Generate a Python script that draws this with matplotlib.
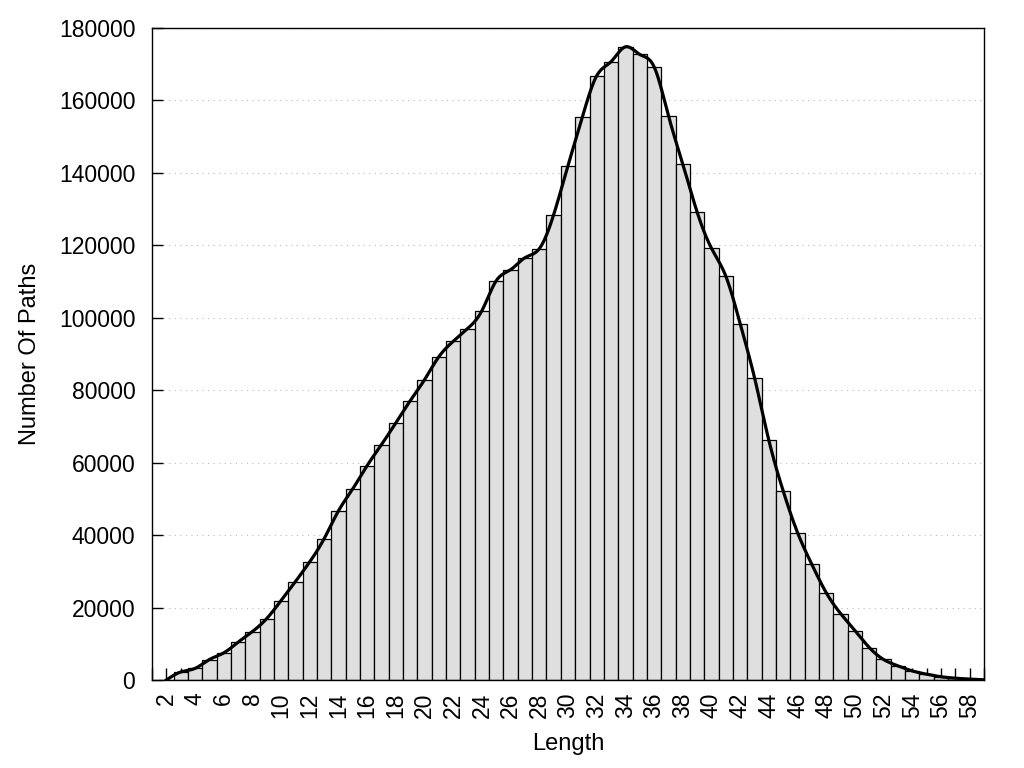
import numpy as np
import matplotlib
matplotlib.use("Agg")
import matplotlib.pyplot as plt
from matplotlib.ticker import MultipleLocator

lengths = list(range(2, 60))
counts = [0, 2200, 3200, 5650, 7480, 10430, 13380, 16970, 21940, 27180,
          32650, 39000, 46700, 52800, 59200, 65000, 71000, 77100, 82900, 89260,
          93500, 97000, 101960, 110240, 113270, 116580, 119070, 128450, 142000, 155400,
          166800, 170700, 174800, 172700, 169300, 155800, 142500, 129200, 119200, 111500,
          98400, 83500, 66200, 52200, 40700, 31900, 24100, 18350, 13660, 8970,
          5660, 3900, 2500, 1600, 900, 500, 250, 50]
x_tick_labels = [str(v) for v in range(2, 60, 2)]
y_ticks = list(range(0, 180001, 20000))


def natural_cubic_spline(x, y, xs):
    x = np.asarray(x, float)
    y = np.asarray(y, float)
    n = len(x)
    h = np.diff(x)
    A = np.zeros((n, n))
    b = np.zeros(n)
    A[0, 0] = 1
    A[-1, -1] = 1
    for i in range(1, n - 1):
        A[i, i - 1] = h[i - 1]
        A[i, i] = 2 * (h[i - 1] + h[i])
        A[i, i + 1] = h[i]
        b[i] = 3 * ((y[i + 1] - y[i]) / h[i] - (y[i] - y[i - 1]) / h[i - 1])
    c = np.linalg.solve(A, b)
    bb = np.zeros(n - 1)
    d = np.zeros(n - 1)
    for i in range(n - 1):
        bb[i] = (y[i + 1] - y[i]) / h[i] - h[i] * (2 * c[i] + c[i + 1]) / 3
        d[i] = (c[i + 1] - c[i]) / (3 * h[i])
    idx = np.clip(np.searchsorted(x, xs) - 1, 0, n - 2)
    dx = xs - x[idx]
    return y[idx] + bb[idx] * dx + c[idx] * dx ** 2 + d[idx] * dx ** 3


plt.rcParams['font.family'] = ['Liberation Sans', 'DejaVu Sans']

fig = plt.figure(figsize=(10.24, 7.68), dpi=100)
ax = fig.add_axes([152 / 1024, 88 / 768, (984 - 152) / 1024, (680 - 28) / 768])

ax.bar(lengths, counts, width=1.0, color='#dfdfdf', edgecolor='black',
       linewidth=0.9, zorder=2)

xs = np.linspace(lengths[0], lengths[-1], 1500)
ys = natural_cubic_spline(lengths, counts, xs)
ax.plot(xs, ys, color='black', linewidth=2.3, zorder=3)

ax.set_xlim(1, 59)
ax.set_ylim(0, 180000)
ax.set_xticks(list(range(2, 60, 2)))
ax.set_xticklabels(x_tick_labels, rotation=90)
ax.xaxis.set_minor_locator(MultipleLocator(1))
ax.set_yticks(y_ticks)
ax.set_yticklabels([str(v) for v in y_ticks])

ax.tick_params(axis='x', which='both', direction='in', length=9, width=1,
               labelsize=16.5, pad=9, top=False)
ax.tick_params(axis='y', which='both', direction='in', length=8, width=1,
               labelsize=16.5, pad=12, right=False)

ax.yaxis.grid(True, linestyle=(0, (1, 4)), color='#bbbbbb', linewidth=0.8, zorder=0)
ax.set_axisbelow(True)

for s in ax.spines.values():
    s.set_linewidth(1.0)
    s.set_zorder(4)

ax.set_xlabel('Length', fontsize=17, labelpad=11)
ax.set_ylabel('Number Of Paths', fontsize=17, labelpad=13)

fig.savefig('out.png', dpi=100)
